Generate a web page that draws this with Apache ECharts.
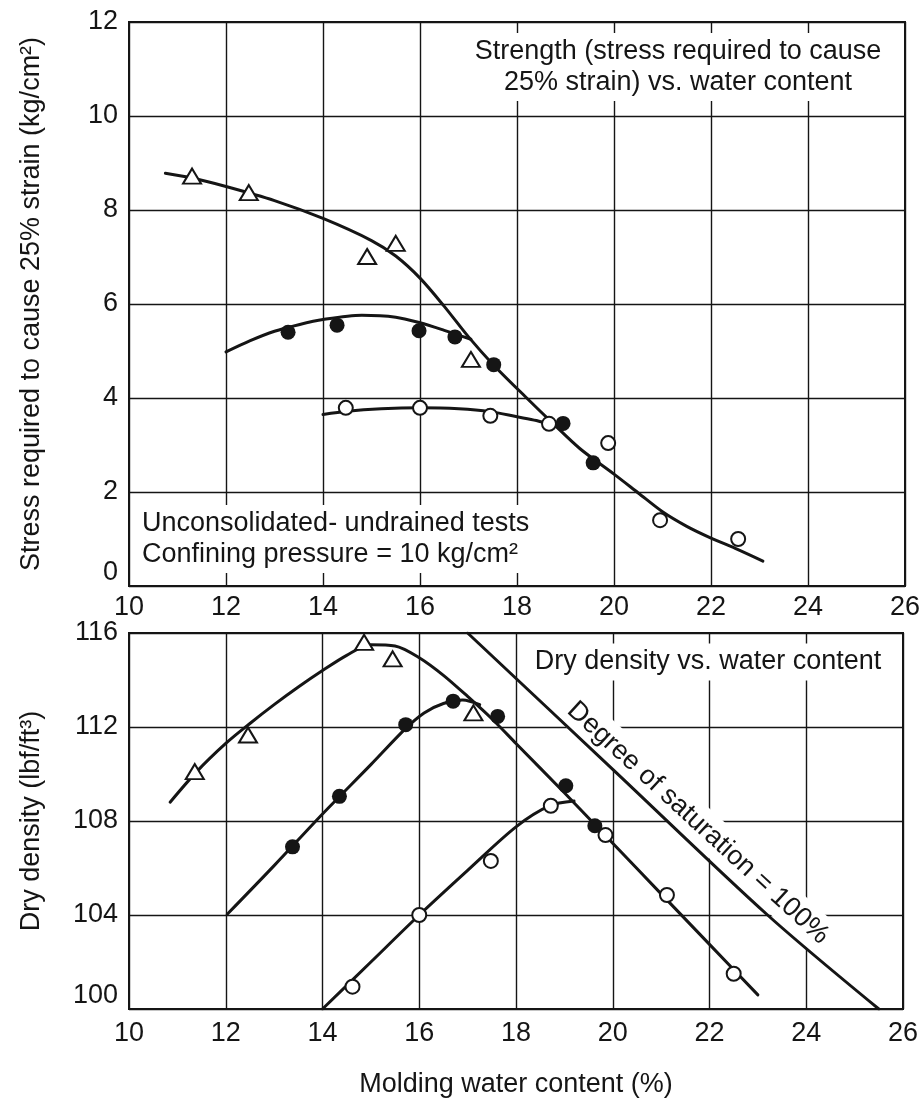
<!DOCTYPE html>
<html><head><meta charset="utf-8">
<script src="https://cdn.jsdelivr.net/npm/echarts@6/dist/echarts.min.js"></script>
<style>html,body{margin:0;padding:0;background:#fff}#c{width:924px;height:1101px}</style>
</head><body><div id="c"></div><script>
// ---------- data ----------
const xTickRange = [10, 26, 2];            // molding water content (%)
const strengthTickRange = [0, 12, 2];      // kg/cm2
const densityTickRange = [100, 116, 4];    // lbf/ft3

// Top panel: strength vs water content
const strengthTriPts = [[11.3,8.72],[12.47,8.37],[14.91,7.01],[15.5,7.29],[17.05,4.82]];
const strengthFilledPts = [[13.28,5.4],[14.29,5.55],[15.98,5.43],[16.72,5.3],[17.52,4.71],[18.95,3.46],[19.57,2.62]];
const strengthOpenPts = [[14.47,3.79],[16.0,3.79],[17.45,3.62],[18.66,3.45],[19.88,3.04],[20.95,1.4],[22.56,1.0]];
const strengthMainCurve = [[10.75,8.78],[11.3,8.68],[12,8.5],[13,8.2],[14,7.82],[15,7.35],[15.5,7.02],[16,6.55],[16.5,5.95],[17,5.3],[17.5,4.72],[18.2,4.0],[18.75,3.45],[19.3,2.92],[20,2.38],[20.5,1.98],[21,1.58],[21.5,1.27],[22,1.02],[22.5,0.8],[23.07,0.53]];
const strengthFilledCurve = [[12,4.98],[12.5,5.22],[13,5.42],[13.5,5.56],[14,5.67],[14.8,5.76],[15.5,5.72],[16,5.6],[16.5,5.44],[17.05,5.25]];
const strengthOpenCurve = [[14,3.65],[14.5,3.72],[15.2,3.77],[16,3.79],[16.8,3.77],[17.45,3.71],[18,3.6],[18.4,3.52],[18.8,3.4]];

// Bottom panel: dry density vs water content
const densityTriPts = [[11.36,110.1],[12.46,111.66],[14.86,115.6],[15.45,114.9],[17.12,112.6]];
const densityFilledPts = [[13.38,106.9],[14.35,109.05],[15.72,112.1],[16.7,113.1],[17.62,112.45],[19.03,109.5],[19.63,107.8]];
const densityOpenPts = [[14.62,100.95],[16.0,104.0],[17.48,106.3],[18.72,108.65],[19.85,107.4],[21.12,104.85],[22.5,101.5]];
const densityMainCurve = [[10.85,108.8],[11.4,110.1],[12,111.3],[12.5,112.15],[13,112.95],[13.5,113.7],[14,114.4],[14.5,115.05],[15,115.5],[15.5,115.45],[16,114.95],[16.5,114.2],[17,113.3],[17.5,112.35],[18,111.3],[19,109.2],[20,107.05],[21,104.9],[22,102.75],[23,100.6]];
const densityFilledCurve = [[12.03,104.03],[13,106.1],[14,108.3],[15,110.4],[15.7,111.9],[16.1,112.6],[16.5,113.0],[16.9,113.15],[17.25,112.95]];
const densityOpenCurve = [[14,100],[15,102],[16,104],[17,105.9],[18,107.75],[18.7,108.65],[19.2,108.85]];
const saturationCurve = [[17.0,116],[20,110.2],[23.2,104.0],[25.5,100]];

// ---------- texts ----------
const xTitle = 'Molding water content (%)';
const strengthTitle = 'Stress required to cause 25% strain (kg/cm²)';
const densityTitle = 'Dry density (lbf/ft³)';
const strengthNote = 'Strength (stress required to cause\n25% strain) vs. water content';
const testNote = 'Unconsolidated- undrained tests\nConfining pressure = 10 kg/cm²';
const densityNote = 'Dry density vs. water content';
const saturationNote = 'Degree of saturation = 100%';

// ---------- styling ----------
const INK = '#151515';
const FONT = '"Liberation Sans", Arial, sans-serif';

function xAxisFor(idx, withName) {
  const a = {
    gridIndex: idx, type: 'value',
    min: xTickRange[0], max: xTickRange[1], interval: xTickRange[2],
    axisLine: {show: true, onZero: false, lineStyle: {color: INK, width: 2}},
    axisTick: {show: false},
    splitLine: {show: true, lineStyle: {color: INK, width: 1.4}},
    axisLabel: {color: INK, fontSize: 27, fontFamily: FONT, margin: idx === 0 ? 8 : 11}
  };
  if (withName) {
    a.name = xTitle; a.nameLocation = 'middle'; a.nameGap = 62;
    a.nameTextStyle = {color: INK, fontSize: 27, fontFamily: FONT};
  }
  return a;
}
function yAxisFor(idx, range, name, lowVal) {
  return {
    gridIndex: idx, type: 'value',
    min: range[0], max: range[1], interval: range[2],
    name: name, nameLocation: 'middle', nameGap: 84,
    nameTextStyle: {color: INK, fontSize: 27, fontFamily: FONT},
    axisLine: {show: true, onZero: false, lineStyle: {color: INK, width: 2}},
    axisTick: {show: false},
    splitLine: {show: true, lineStyle: {color: INK, width: 1.4}},
    axisLabel: {
      color: INK, fontSize: 27, fontFamily: FONT, margin: 11,
      formatter: v => (v === lowVal ? '{lo|' + v + '}' : String(v)),
      rich: {lo: {color: INK, fontSize: 27, fontFamily: FONT, padding: [0, 0, 26, 0]}}
    }
  };
}
function curve(data, xi, yi) {
  return {type: 'line', xAxisIndex: xi, yAxisIndex: yi, data: data, smooth: 0.3,
    showSymbol: false, symbol: 'none', z: 4, silent: true,
    lineStyle: {color: INK, width: 3, cap: 'round'}};
}
function marks(data, xi, yi, kind) {
  const s = {type: 'scatter', xAxisIndex: xi, yAxisIndex: yi, data: data, z: 6, silent: true};
  if (kind === 'tri') {
    s.symbol = 'triangle'; s.symbolSize = [18, 15];
    s.itemStyle = {color: '#fff', borderColor: INK, borderWidth: 2, opacity: 1};
  } else if (kind === 'filled') {
    s.symbol = 'circle'; s.symbolSize = 15;
    s.itemStyle = {color: INK, opacity: 1};
  } else {
    s.symbol = 'circle'; s.symbolSize = 14;
    s.itemStyle = {color: '#fff', borderColor: INK, borderWidth: 2, opacity: 1};
  }
  return s;
}
function note(text, x, y, align, extra) {
  return Object.assign({
    type: 'text', x: x, y: y, z: 3,
    style: {text: text, fill: INK, fontSize: 27, fontFamily: FONT, lineHeight: 31,
      align: align, textAlign: align, verticalAlign: 'middle', textVerticalAlign: 'middle',
      backgroundColor: '#fff', padding: [3, 6, 3, 6]}
  }, extra || {});
}

const chart = echarts.init(document.getElementById('c'), null, {renderer: 'canvas'});
chart.setOption({
  animation: false,
  backgroundColor: '#fff',
  grid: [
    {left: 129, top: 22, width: 776, height: 564, show: true, borderColor: INK, borderWidth: 2, containLabel: false},
    {left: 129, top: 633, width: 774, height: 376, show: true, borderColor: INK, borderWidth: 2, containLabel: false}
  ],
  xAxis: [xAxisFor(0, false), xAxisFor(1, true)],
  yAxis: [
    yAxisFor(0, strengthTickRange, strengthTitle, 0),
    yAxisFor(1, densityTickRange, densityTitle, 100)
  ],
  series: [
    curve(strengthMainCurve, 0, 0),
    curve(strengthFilledCurve, 0, 0),
    curve(strengthOpenCurve, 0, 0),
    marks(strengthTriPts, 0, 0, 'tri'),
    marks(strengthFilledPts, 0, 0, 'filled'),
    marks(strengthOpenPts, 0, 0, 'open'),
    curve(densityMainCurve, 1, 1),
    curve(densityFilledCurve, 1, 1),
    curve(densityOpenCurve, 1, 1),
    curve(saturationCurve, 1, 1),
    marks(densityTriPts, 1, 1, 'tri'),
    marks(densityFilledPts, 1, 1, 'filled'),
    marks(densityOpenPts, 1, 1, 'open')
  ],
  graphic: [
    note(strengthNote, 678, 67, 'center'),
    note(testNote, 136, 539, 'left'),
    note(densityNote, 708, 662, 'center'),
    note(saturationNote, 698, 823, 'center', {rotation: -0.742})
  ]
});
</script></body></html>
